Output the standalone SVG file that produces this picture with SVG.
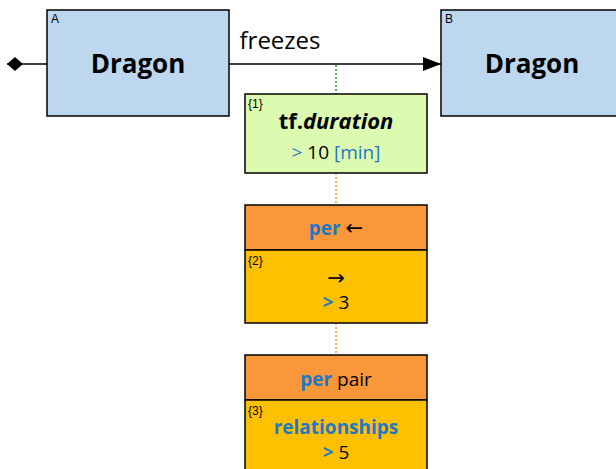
<svg xmlns="http://www.w3.org/2000/svg" width="616" height="469" viewBox="0 0 616 469">
<defs>
<style>
.ent{fill:#BDD7EE;stroke:#000;stroke-width:1.5}
.lbl{font-family:"Liberation Sans",Arial,sans-serif;font-size:12px;fill:#000}
.big{font-family:"Open Sans","Liberation Sans",sans-serif;font-weight:bold;font-size:26px;fill:#000;text-anchor:middle}
.t{font-family:"Open Sans","Liberation Sans",sans-serif;fill:#000;text-anchor:middle}
.ar{font-family:"DejaVu Sans",sans-serif;font-size:21px}
.blue{fill:#1F78C4}
.b{font-weight:bold}
.hdr{fill:#F9973A;stroke:#000;stroke-width:1.5}
.body{fill:#FFC000;stroke:#000;stroke-width:1.5}
</style>
<marker id="arr" markerWidth="18" markerHeight="14" refX="18" refY="7" orient="auto" markerUnits="userSpaceOnUse">
<path d="M0,0 L18,7 L0,14 Z" fill="#000"/>
</marker>
<marker id="dia" markerWidth="16" markerHeight="14" refX="16" refY="7" orient="auto-start-reverse" markerUnits="userSpaceOnUse">
<path d="M0,7 L8,0 L16,7 L8,14 Z" fill="#000"/>
</marker>
</defs>
<g id="connectors">
<line x1="229" y1="64" x2="441" y2="64" stroke="#000" stroke-width="1.5" marker-end="url(#arr)"/>
<line x1="7" y1="64" x2="47" y2="64" stroke="#000" stroke-width="1.5" marker-start="url(#dia)"/>
<line x1="336" y1="65" x2="336" y2="94" stroke="#2E9A3A" stroke-width="1.5" stroke-dasharray="2,2"/>
<line x1="336" y1="173" x2="336" y2="205" stroke="#F39A4A" stroke-width="1.5" stroke-dasharray="2,2"/>
<line x1="336" y1="323" x2="336" y2="355" stroke="#F39A4A" stroke-width="1.5" stroke-dasharray="2,2"/>
<text class="t" x="280" y="49" font-size="24">freezes</text>
</g>
<g id="nodeA">
<rect class="ent" x="47" y="10" width="182" height="106"/>
<text class="lbl" x="51" y="23">A</text>
<text class="big" x="138" y="73">Dragon</text>
</g>
<g id="nodeB">
<rect class="ent" x="441" y="10" width="185" height="106"/>
<text class="lbl" x="445" y="23">B</text>
<text class="big" x="532" y="73">Dragon</text>
</g>
<g id="cond1">
<rect x="245" y="94" width="182" height="79" fill="#DCFBB0" stroke="#000" stroke-width="1.5"/>
<text class="lbl" x="248" y="108">{1}</text>
<text class="t" x="336" y="129" font-size="22" font-weight="bold">tf.<tspan font-style="italic">duration</tspan></text>
<text class="t" x="336" y="159" font-size="19"><tspan class="blue">&gt;</tspan> 10 <tspan class="blue">[min]</tspan></text>
</g>
<g id="cond2">
<rect class="hdr" x="245" y="205" width="182" height="45"/>
<rect class="body" x="245" y="250" width="182" height="73"/>
<text class="t" x="336" y="235" font-size="19"><tspan class="blue b">per</tspan> <tspan class="ar">←</tspan></text>
<text class="lbl" x="248" y="265">{2}</text>
<text class="t ar" x="336" y="285">→</text>
<text class="t" x="336" y="309" font-size="19"><tspan class="blue b">&gt;</tspan> 3</text>
</g>
<g id="cond3">
<rect class="hdr" x="245" y="355" width="182" height="45"/>
<rect class="body" x="245" y="400" width="182" height="75"/>
<text class="t" x="336" y="386" font-size="19"><tspan class="blue b">per</tspan> pair</text>
<text class="lbl" x="248" y="415">{3}</text>
<text class="t blue b" x="336" y="434" font-size="19">relationships</text>
<text class="t" x="336" y="459" font-size="19"><tspan class="blue b">&gt;</tspan> 5</text>
</g>
</svg>
